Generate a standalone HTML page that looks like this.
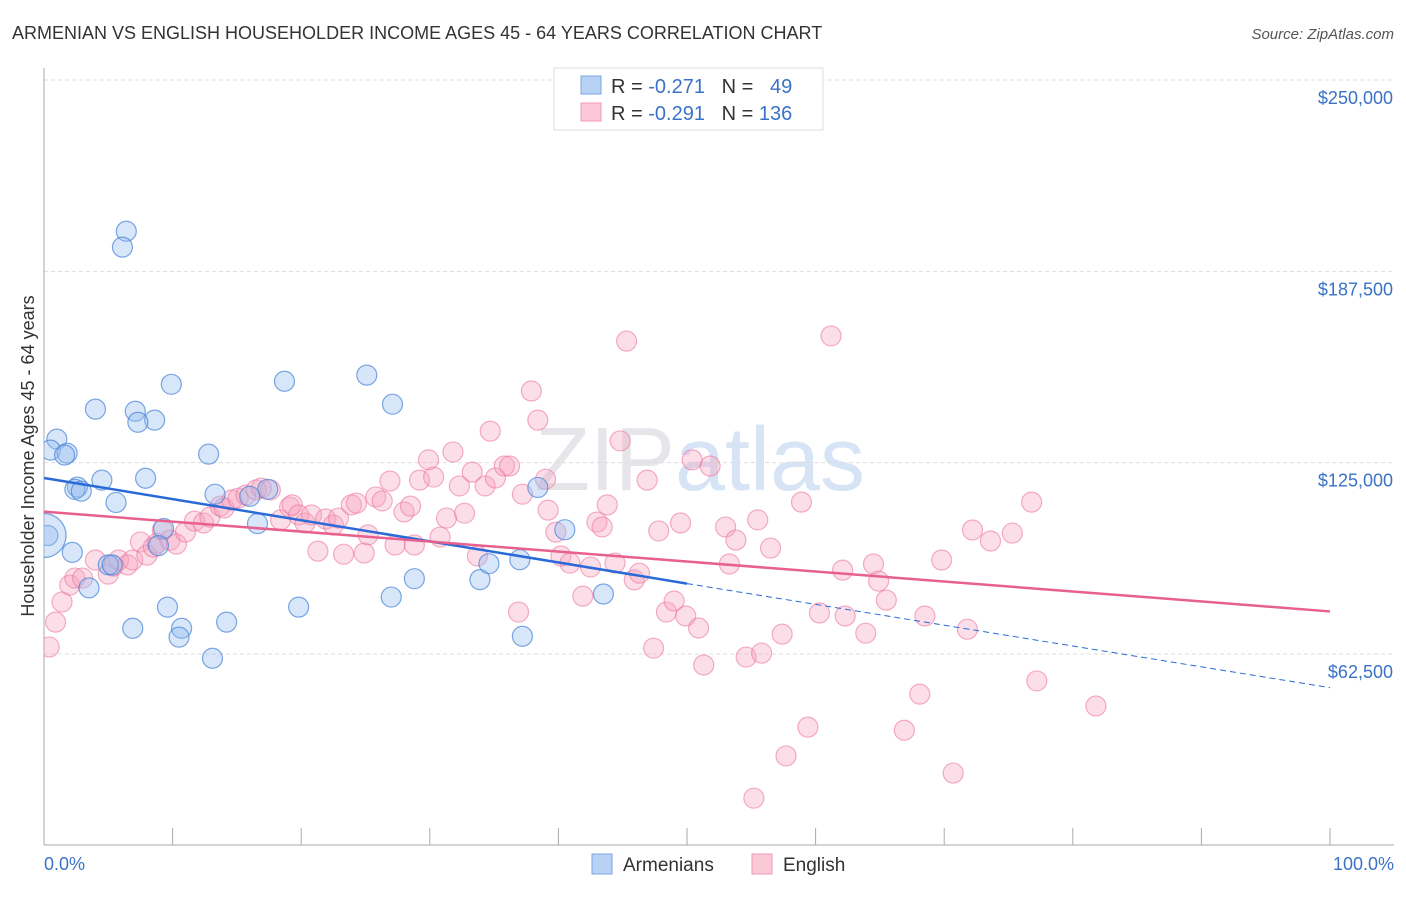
<!DOCTYPE html>
<html><head><meta charset="utf-8"><style>
body{margin:0;background:#fff;font-family:"Liberation Sans",sans-serif;}
svg text{font-family:"Liberation Sans",sans-serif;}
</style></head><body>
<svg id="chart" width="1406" height="892" xmlns="http://www.w3.org/2000/svg">
<defs><clipPath id="plotclip"><rect x="44" y="60" width="1360" height="785"/></clipPath></defs>
<text x="12" y="39" font-size="18" fill="#333">ARMENIAN VS ENGLISH HOUSEHOLDER INCOME AGES 45 - 64 YEARS CORRELATION CHART</text>
<text x="1394" y="39" font-size="15" fill="#555" text-anchor="end" font-style="italic">Source: ZipAtlas.com</text>
<text x="700" y="490" font-size="90" fill="#e6e6ea" text-anchor="middle" font-family="Liberation Serif">ZIP<tspan fill="#d6e4f5" font-family="Liberation Sans">atlas</tspan></text>
<g id="grid"></g>
<g id="axes"></g>
<g id="pts" clip-path="url(#plotclip)"></g>
<g id="lines"></g>
<text transform="translate(34,456) rotate(-90)" font-size="18" fill="#333" text-anchor="middle">Householder Income Ages 45 - 64 years</text>
<text x="44" y="870" font-size="18" fill="#3a72c8">0.0%</text>
<text x="1394" y="870" font-size="18" fill="#3a72c8" text-anchor="end">100.0%</text>
<g>
<rect x="554" y="68" width="269" height="62" fill="#fff" stroke="#ddd"/>
<rect x="581" y="76" width="20" height="18" fill="#b8d2f4" stroke="#7aa6e0"/>
<rect x="581" y="103" width="20" height="18" fill="#fac8d6" stroke="#f09ab4"/>
<text x="611" y="93" font-size="20" fill="#333" xml:space="preserve">R = <tspan fill="#3a72c8">-0.271</tspan>   N =   <tspan fill="#3a72c8">49</tspan></text>
<text x="611" y="120" font-size="20" fill="#333" xml:space="preserve">R = <tspan fill="#3a72c8">-0.291</tspan>   N = <tspan fill="#3a72c8">136</tspan></text>
</g>
<g>
<rect x="592" y="854" width="20" height="20" fill="#b8d2f4" stroke="#7aa6e0"/>
<text x="623" y="871" font-size="19" fill="#333">Armenians</text>
<rect x="752" y="854" width="20" height="20" fill="#fac8d6" stroke="#f09ab4"/>
<text x="783" y="871" font-size="19" fill="#333">English</text>
</g>
</svg>
<script>
const yTicks=[250000,187500,125000,62500];
const yTickLabels=["$250,000","$187,500","$125,000","$62,500"];
const xTicks=[0,10,20,30,40,50,60,70,80,90,100];
const armX=[6.4,6.1,9.9,18.7,25.1,27.1,4.0,7.1,8.6,7.3,1.0,0.5,1.8,1.6,12.8,7.9,4.5,2.6,2.4,2.9,13.3,17.4,16.0,5.6,38.4,40.5,16.6,9.3,0.3,2.2,8.9,28.8,33.9,34.6,37.0,5.0,5.3,3.5,43.5,27.0,9.6,19.8,6.9,14.2,10.7,10.5,37.2,13.1,0.0];
const armY=[200600,195400,150600,151600,153600,144100,142500,141800,138900,138200,132700,129100,128100,127500,127800,119900,119300,117000,116300,115700,114700,116300,114000,112000,116900,103100,105100,103500,101200,95700,97900,87100,86800,92000,93300,91600,91600,84100,82100,81100,77800,77800,70900,72900,70900,68000,68300,61100,101200];
const engX=[0.4,0.9,1.4,2.0,2.4,3.0,4.0,5.0,5.4,5.8,6.5,6.9,7.5,8.0,8.5,8.8,9.2,9.8,10.3,11.0,11.7,12.4,12.9,13.7,14.0,14.6,15.1,15.7,16.5,16.9,17.6,18.4,19.1,19.3,19.8,20.3,20.8,21.3,21.9,22.5,22.9,23.3,23.9,24.3,24.9,25.2,25.8,26.3,26.9,27.3,28.0,28.5,28.8,29.2,29.9,30.3,30.8,31.3,31.8,32.3,32.7,33.3,33.7,34.3,34.7,35.1,35.8,36.2,36.9,37.2,37.9,38.4,39.0,39.2,39.8,40.2,40.9,41.9,42.5,43.0,43.4,43.8,44.4,44.8,45.3,45.9,46.3,46.9,47.4,47.8,48.4,49.0,49.5,49.9,50.4,50.9,51.3,51.8,53.0,53.3,53.8,54.6,55.2,55.5,55.8,56.5,57.4,57.7,58.9,59.4,60.3,61.2,62.1,62.3,63.9,64.5,64.9,65.5,66.9,68.1,68.5,69.8,70.7,71.8,72.2,73.6,75.3,76.8,77.2,81.8];
const engY=[64800,72900,79500,85000,87300,87300,93200,88600,91200,93200,91600,93200,99100,94800,97400,98700,103000,99700,98400,102300,105900,105300,107200,110800,110200,112800,113400,114400,116100,116700,116100,106300,110500,111200,107900,105300,107900,96100,106600,104600,106900,95100,111200,111800,95500,101400,113800,112500,119000,98100,108900,110800,98100,119300,125900,120300,100700,106900,128500,117400,108500,121900,94500,117400,135300,120000,123900,123900,76200,114700,148400,138900,119600,109500,102300,94500,92200,81400,90900,105600,104000,111200,92200,132100,164700,86700,88900,119300,64400,102700,76200,79800,105300,74900,125900,71000,58900,123900,104000,91900,99700,61500,15400,106300,62800,97100,69000,29200,112100,38600,75900,166400,89900,74900,69300,91900,86300,80100,37600,49400,74900,93200,23600,70600,103000,99400,102000,112100,53700,45500];
const X0=44,X1=1330,Y250=80,PXPER=191.33/62500;
const sx=p=>X0+(X1-X0)*p/100;
const sy=v=>Y250+(250000-v)*PXPER;
const NS="http://www.w3.org/2000/svg";
function mk(tag,attrs,parent){const e=document.createElementNS(NS,tag);for(const k in attrs)e.setAttribute(k,attrs[k]);parent.appendChild(e);return e;}
const grid=document.getElementById('grid'),axes=document.getElementById('axes'),pts=document.getElementById('pts'),lines=document.getElementById('lines');
yTicks.forEach((v,i)=>{
 const l=mk('line',{x1:X0,x2:1394,y1:sy(v),y2:sy(v),stroke:'#ddd','stroke-dasharray':'4,3'},grid);
 
 
 const t=mk('text',{x:1393,y:sy(v)+24,'font-size':18,fill:'#3a72c8','text-anchor':'end'},grid);
 t.textContent=yTickLabels[i];
 
 
});
const ya=mk('line',{x1:X0,x2:X0,y1:68,y2:845,stroke:'#aaa'},axes);


const xa=mk('line',{x1:X0,x2:1394,y1:845,y2:845,stroke:'#aaa'},axes);


xTicks.forEach(p=>{
 const t=mk('line',{x1:sx(p),x2:sx(p),y1:828,y2:845,stroke:'#aaa'},axes);
 
 
});
engX.forEach((p,i)=>{
 const c=mk('circle',{cx:sx(p),cy:sy(engY[i]),r:10,fill:'rgba(246,160,188,0.35)',stroke:'rgba(236,120,160,0.6)','stroke-width':1.2},pts);
 
 
});
armX.forEach((p,i)=>{
 const c=mk('circle',{cx:sx(p),cy:sy(armY[i]),r:i==armX.length-1?22:10,fill:'rgba(150,190,240,0.38)',stroke:'rgba(70,130,215,0.7)','stroke-width':1.2},pts);
 
 
});
const armTrend=[120000,85500,51500];
const engTrend=[109000,76400];
let l=mk('line',{x1:sx(0),y1:sy(armTrend[0]),x2:sx(50),y2:sy(armTrend[1]),stroke:'#2a6ad6','stroke-width':2.5},lines);


l=mk('line',{x1:sx(50),y1:sy(armTrend[1]),x2:sx(100),y2:sy(armTrend[2]),stroke:'#2a6ad6','stroke-width':1,'stroke-dasharray':'6,4'},lines);


l=mk('line',{x1:sx(0),y1:sy(engTrend[0]),x2:sx(100),y2:sy(engTrend[1]),stroke:'#e8608e','stroke-width':2.5},lines);


</script>
</body></html>
